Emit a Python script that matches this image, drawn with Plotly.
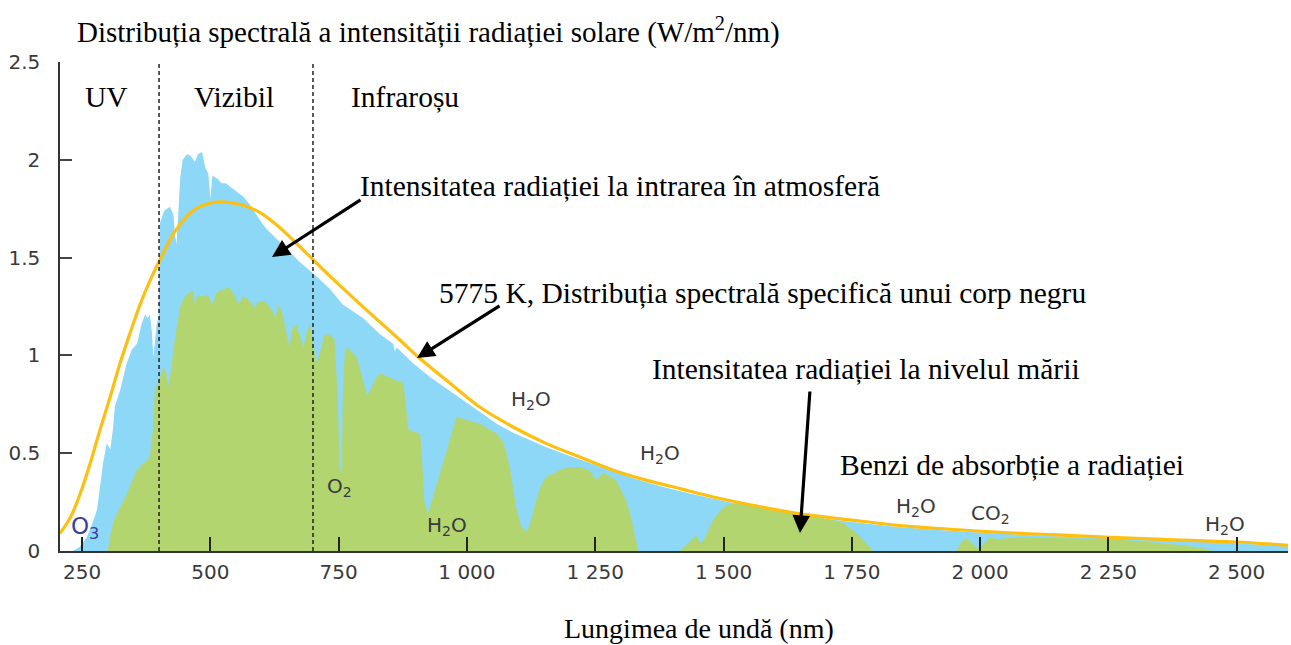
import plotly.graph_objects as go

# ---------------- data ----------------
# Extraterrestrial (top of atmosphere) spectral irradiance, W/m2/nm
top_nm = [232, 245, 259, 270, 279, 285, 291, 298, 305, 310, 314, 324, 337, 347, 357, 366, 373, 378,
          382, 386, 389, 395, 399, 402, 410, 421, 428, 431, 434, 437, 441, 446, 455, 462, 470, 476,
          484, 490, 496, 500, 504, 515, 522, 530, 540, 550, 556, 565, 577, 589, 600, 608, 620, 634,
          655, 673, 700, 733, 758, 798, 830, 856, 860, 863, 895, 928, 960, 993, 1025, 1058, 1090,
          1123, 1155, 1187, 1220, 1252, 1285, 1317, 1350, 1383, 1430, 1480, 1507, 1580, 1649, 1750,
          1844, 1950, 2038, 2150, 2253, 2380, 2500, 2600]
top_val = [0, 0.02, 0.07, 0.14, 0.21, 0.32, 0.45, 0.55, 0.52, 0.62, 0.74, 0.82, 0.96, 1.03, 1.06, 1.16,
           1.21, 1.19, 1.21, 1.12, 0.99, 1.15, 1.20, 1.68, 1.74, 1.76, 1.72, 1.62, 1.57, 1.70, 1.90,
           2.00, 2.03, 2.02, 1.99, 2.03, 2.04, 1.96, 1.93, 1.80, 1.92, 1.90, 1.88, 1.88, 1.86, 1.84,
           1.83, 1.81, 1.77, 1.72, 1.68, 1.65, 1.62, 1.58, 1.53, 1.48, 1.42, 1.34, 1.26, 1.19, 1.11,
           1.06, 1.02, 1.04, 0.96, 0.89, 0.83, 0.77, 0.71, 0.65, 0.605, 0.566, 0.53, 0.498, 0.467,
           0.438, 0.405, 0.378, 0.352, 0.327, 0.296, 0.266, 0.252, 0.214, 0.182, 0.148, 0.122, 0.102,
           0.088, 0.075, 0.064, 0.051, 0.040, 0.025]

# Sea-level spectral irradiance, W/m2/nm
sea_nm = [300, 305, 312, 321, 337, 356, 370, 376, 382, 388, 392, 402, 408, 413, 418, 423, 428, 435,
          441, 450, 458, 466, 470, 476, 485, 495, 504, 510, 517, 528, 537, 546, 552, 556, 562, 572,
          580, 586, 592, 605, 615, 622, 627, 632, 640, 648, 654, 660, 667, 674, 681, 688, 694, 700,
          707, 714, 722, 733, 742, 748, 752, 756, 758, 762, 766, 775, 785, 795, 805, 812, 820, 830,
          845, 863, 876, 881, 886, 898, 909, 913, 917, 924, 932, 941, 950, 960, 970, 980, 1000,
          1025, 1045, 1058, 1070, 1077, 1084, 1090, 1096, 1104, 1110, 1117, 1123, 1135, 1145, 1155,
          1170, 1187, 1205, 1220, 1240, 1252, 1265, 1280, 1291, 1300, 1310, 1318, 1327, 1334, 1415,
          1430, 1447, 1455, 1462, 1480, 1495, 1506, 1532, 1560, 1584, 1620, 1649, 1680, 1714, 1735,
          1746, 1760, 1772, 1782, 1791, 1954, 1962, 1973, 1985, 1995, 2005, 2019, 2032, 2051, 2084,
          2136, 2200, 2266, 2330, 2396, 2430, 2441, 2450, 2600]
sea_val = [0, 0.08, 0.16, 0.21, 0.29, 0.41, 0.45, 0.46, 0.48, 0.62, 0.82, 0.89, 0.94, 0.92, 0.84, 0.92,
           1.03, 1.15, 1.25, 1.30, 1.32, 1.33, 1.26, 1.31, 1.30, 1.31, 1.26, 1.31, 1.33, 1.34, 1.35,
           1.31, 1.28, 1.26, 1.30, 1.29, 1.27, 1.24, 1.27, 1.28, 1.25, 1.22, 1.19, 1.26, 1.22, 1.12,
           1.04, 1.14, 1.16, 1.10, 1.04, 1.12, 1.16, 1.06, 0.96, 1.02, 1.10, 1.11, 1.08, 0.80, 0.42,
           0.40, 0.80, 1.02, 1.04, 1.02, 0.99, 0.90, 0.80, 0.82, 0.87, 0.91, 0.89, 0.87, 0.86, 0.75,
           0.62, 0.61, 0.60, 0.45, 0.26, 0.19, 0.26, 0.345, 0.42, 0.50, 0.60, 0.685, 0.67, 0.65, 0.62,
           0.60, 0.56, 0.50, 0.42, 0.33, 0.22, 0.14, 0.11, 0.10, 0.14, 0.26, 0.34, 0.38, 0.40, 0.42,
           0.43, 0.43, 0.41, 0.36, 0.40, 0.38, 0.36, 0.31, 0.26, 0.19, 0.09, 0, 0, 0.04, 0.08, 0.04,
           0.06, 0.16, 0.21, 0.235, 0.245, 0.235, 0.225, 0.205, 0.19, 0.175, 0.157, 0.14, 0.12, 0.09,
           0.055, 0.025, 0, 0, 0.04, 0.065, 0.04, 0.01, 0.03, 0.07, 0.06, 0.065, 0.07, 0.067, 0.063,
           0.06, 0.045, 0.03, 0.015, 0.01, 0, 0]

# 5775 K black-body curve
bb_nm = [207, 227, 246, 266, 285, 305, 324, 343, 363, 382, 402, 430, 466, 495, 519, 560, 597, 630, 661,
         700, 733, 798, 863, 905, 960, 1025, 1090, 1155, 1220, 1285, 1351, 1415, 1480, 1580, 1649,
         1750, 1844, 1950, 2038, 2150, 2253, 2380, 2500, 2600]
bb_val = [0.09, 0.17, 0.29, 0.45, 0.62, 0.79, 0.96, 1.11, 1.26, 1.38, 1.49, 1.63, 1.74, 1.775, 1.785,
          1.77, 1.73, 1.665, 1.59, 1.49, 1.405, 1.247, 1.094, 0.992, 0.873, 0.736, 0.634, 0.549,
          0.48, 0.413, 0.361, 0.319, 0.276, 0.222, 0.19, 0.158, 0.13, 0.11, 0.095, 0.082, 0.07,
          0.057, 0.046, 0.029]

x_ticks = [250, 500, 750, 1000, 1250, 1500, 1750, 2000, 2250, 2500]
x_tick_text = ["250", "500", "750", "1 000", "1 250", "1 500", "1 750", "2 000", "2 250", "2 500"]
y_ticks = [0, 0.5, 1, 1.5, 2, 2.5]
y_tick_text = ["0", "0.5", "1", "1.5", "2", "2.5"]
region_bounds = [400, 700]

# ---------------- styling ----------------
W, H = 1291, 645
ML, MR, MT, MB = 60, 3, 62, 94
PW, PH = W - ML - MR, H - MT - MB
SERIF = "Liberation Serif, Times New Roman, serif"
SANS = "DejaVu Sans, sans-serif"
BLUE = "#8ed8f7"
GREEN = "#b2d56f"
YELLOW = "#fdbf10"


def xp(px):
    return (px - ML) / PW


def yp(py):
    return (H - MB - py) / PH


fig = go.Figure()
fig.add_trace(go.Scatter(x=top_nm, y=top_val, mode="lines", fill="tozeroy",
                         fillcolor=BLUE, line=dict(width=0, color=BLUE), hoverinfo="skip"))
fig.add_trace(go.Scatter(x=sea_nm, y=sea_val, mode="lines", fill="tozeroy",
                         fillcolor=GREEN, line=dict(width=0, color=GREEN), hoverinfo="skip"))
fig.add_trace(go.Scatter(x=bb_nm, y=bb_val, mode="lines",
                         line=dict(width=3.2, color=YELLOW, shape="spline", smoothing=0.8),
                         hoverinfo="skip"))

for b in region_bounds:
    fig.add_shape(type="line", xref="x", yref="y", x0=b, x1=b, y0=0, y1=2.5,
                  line=dict(color="#222222", width=1.5, dash="4px,3px"), layer="above")

ann = []


def text(px, py, s, size=29.5, font=SERIF, color="black", xanchor="left"):
    ann.append(dict(xref="paper", yref="paper", x=xp(px), y=yp(py), text=s, showarrow=False,
                    xanchor=xanchor, yanchor="middle", font=dict(family=font, size=size, color=color)))


def arrow(tip, tail):
    ann.append(dict(xref="paper", yref="paper", x=xp(tip[0]), y=yp(tip[1]), text="",
                    showarrow=True, axref="pixel", ayref="pixel",
                    ax=tail[0] - tip[0], ay=tail[1] - tip[1],
                    arrowhead=2, arrowsize=1.1, arrowwidth=3.2, arrowcolor="black"))


text(75, 30, "Distribuția spectrală a intensității radiației solare (W/m<sup>2</sup>/nm)", size=29)
text(106, 97, "UV", xanchor="center")
text(234, 97, "Vizibil", xanchor="center")
text(405, 97, "Infraroșu", xanchor="center")
text(358, 186, "Intensitatea radiației la intrarea în atmosferă")
text(437, 293, "5775 K, Distribuția spectrală specifică unui corp negru")
text(650, 369, "Intensitatea radiației la nivelul mării")
text(838, 465, "Benzi de absorbție a radiației")
text(699, 628, "Lungimea de undă (nm)", size=28, xanchor="center")

MOL = "#3a3a3a"
text(85, 528, "O<sub>3</sub>", size=23, font=SANS, color="#3e3ea0", xanchor="center")
text(339, 487, "O<sub>2</sub>", size=20, font=SANS, color=MOL, xanchor="center")
text(447, 526, "H<sub>2</sub>O", size=20, font=SANS, color=MOL, xanchor="center")
text(531, 400, "H<sub>2</sub>O", size=20, font=SANS, color=MOL, xanchor="center")
text(660, 454, "H<sub>2</sub>O", size=20, font=SANS, color=MOL, xanchor="center")
text(916, 507, "H<sub>2</sub>O", size=20, font=SANS, color=MOL, xanchor="center")
text(990, 514, "CO<sub>2</sub>", size=20, font=SANS, color=MOL, xanchor="center")
text(1225, 525, "H<sub>2</sub>O", size=20, font=SANS, color=MOL, xanchor="center")

arrow((272, 257), (362, 199))
arrow((417, 358), (501, 305))
arrow((800, 533), (810, 390))

fig.update_layout(
    width=W, height=H, margin=dict(l=ML, r=MR, t=MT, b=MB),
    paper_bgcolor="white", plot_bgcolor="white", showlegend=False,
    annotations=ann,
    xaxis=dict(range=[207, 2600], tickvals=x_ticks, ticktext=x_tick_text, ticks="inside",
               ticklen=14, tickwidth=1.5, tickcolor="#222222", showline=True, linecolor="#333333",
               linewidth=1.5, showgrid=False, zeroline=False, ticklabelstandoff=2,
               tickfont=dict(family=SANS, size=20, color="#3a3a3a")),
    yaxis=dict(range=[0, 2.5], tickvals=y_ticks, ticktext=y_tick_text, ticks="inside",
               ticklen=12, tickwidth=1.5, tickcolor="#444444", showline=True, linecolor="#333333",
               linewidth=1.5, showgrid=False, zeroline=False, ticklabelstandoff=14,
               tickfont=dict(family=SANS, size=20, color="#3a3a3a")),
)

fig.write_html("out.html")
